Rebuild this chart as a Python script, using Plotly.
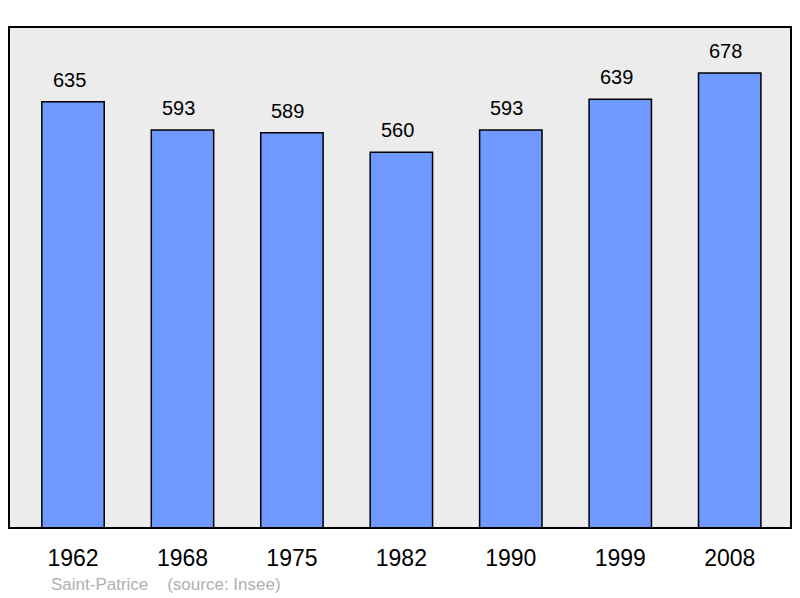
import plotly.graph_objects as go

years = ["1962", "1968", "1975", "1982", "1990", "1999", "2008"]
population = [635, 593, 589, 560, 593, 639, 678]
footer_text = "Saint-Patrice    (source: Insee)"

xpos = list(range(len(years)))
FONT = "Liberation Sans, Arial, sans-serif"

fig = go.Figure()
fig.add_trace(go.Bar(
    x=xpos, y=population, width=0.57,
    marker=dict(color="#7099ff", line=dict(color="#000000", width=1.5)),
    hoverinfo="skip",
))

for xi, v in zip(xpos, population):
    fig.add_annotation(x=xi, y=v, text=str(v), showarrow=False, yanchor="bottom",
                       yshift=9, xshift=-4,
                       font=dict(size=20, color="#000000", family=FONT))

fig.add_annotation(xref="paper", yref="paper", x=(49 - 9) / 782, y=-(584 - 528) / 501,
                   xanchor="left", yanchor="middle", text=footer_text, showarrow=False,
                   font=dict(size=17, color="#b0b0b0", family=FONT))

fig.add_shape(type="rect", xref="paper", yref="paper", x0=0, y0=0, x1=1, y1=1,
              line=dict(color="#000000", width=2), layer="above")

fig.update_layout(
    width=800, height=598,
    margin=dict(l=9, r=9, t=27, b=70),
    plot_bgcolor="#ececec", paper_bgcolor="#ffffff",
    showlegend=False,
    xaxis=dict(range=[-0.585, 6.56], tickvals=xpos, ticktext=years, showgrid=False,
               zeroline=False, ticks="outside", ticklen=9, tickcolor="rgba(0,0,0,0)",
               tickfont=dict(size=23, color="#000000", family=FONT),
               fixedrange=True),
    yaxis=dict(range=[0, 746.5], showticklabels=False, showgrid=False, zeroline=False,
               fixedrange=True),
)

fig.write_html("out.html", config={"displayModeBar": False},
               post_script="document.body.style.margin='0';document.body.style.overflow='hidden';")
